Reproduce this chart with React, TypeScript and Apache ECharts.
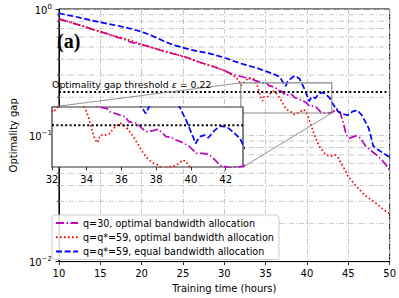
import React, { useEffect, useRef } from "react";
import * as echarts from "echarts";

const seriesNames = [
  "q=30, optimal bandwidth allocation",
  "q=q*=59, optimal bandwidth allocation",
  "q=q*=59, equal bandwidth allocation",
];

const q30X = [10,11,12,13,14,15,16,17,18,18.7,19.3,20,21,22,23,24,25,26,27,28,29,30,31,31.8,32.4,33.2,34.4,35.17,35.36,35.65,35.94,36.23,36.42,36.71,36.9,37.19,37.41,37.8,38.09,38.28,38.57,38.86,39.15,39.54,39.92,40.31,40.7,41.08,41.47,41.68,42.25,43.03,43.6,43.99,44.37,44.76,45.14,45.92,46.5,47.08,47.84,48.61,49.38,50];
const q30Y = [0.835,0.795,0.762,0.73,0.69,0.66,0.632,0.60,0.57,0.545,0.535,0.522,0.50,0.478,0.455,0.44,0.423,0.402,0.38,0.36,0.344,0.326,0.304,0.295,0.288,0.279,0.263,0.256,0.2485,0.245,0.241,0.2375,0.227,0.225,0.2237,0.2137,0.2073,0.2092,0.2118,0.2073,0.198,0.197,0.192,0.1875,0.181,0.170,0.170,0.1677,0.1578,0.152,0.149,0.151,0.163,0.153,0.128,0.1005,0.095,0.099,0.095,0.082,0.0747,0.0684,0.0604,0.053];

const optX = [10,11,12,13,14,15,16,17,18,19,20,21,22,23,24,25,26,27,28,29,30,31,31.7,32.05,32.4,32.8,33.0,33.6,33.91,34.1,34.3,34.49,34.64,34.78,35.07,35.36,35.46,35.65,35.94,36.23,36.42,36.81,37.19,37.48,37.8,38.09,38.4,38.7,39.0,39.34,39.54,39.69,39.92,40.14,40.5,40.9,41.48,42.25,42.83,43.4,43.8,44.2,44.57,44.95,45.92,47.08,48.23,49.2,50];
const optY = [0.835,0.80,0.765,0.725,0.695,0.665,0.63,0.605,0.58,0.555,0.525,0.50,0.48,0.46,0.44,0.42,0.40,0.378,0.362,0.345,0.325,0.30,0.275,0.248,0.262,0.28,0.287,0.279,0.256,0.2375,0.21,0.192,0.1875,0.201,0.201,0.204,0.21,0.217,0.224,0.217,0.21,0.192,0.173,0.163,0.1555,0.153,0.146,0.150,0.151,0.1555,0.16,0.158,0.151,0.14,0.12,0.1005,0.082,0.07,0.0683,0.07,0.066,0.0588,0.0536,0.0475,0.0398,0.0332,0.0294,0.026,0.024];

const eqX = [10,11,12,13,14,15,16,17,18,19,20,21,22,23,24,25,26,27,28,29,30,31,32,33,34,35,36,36.7,37.4,37.7,38.5,39.1,39.35,39.73,40.12,40.27,40.5,40.8,41.0,41.37,41.66,42.05,42.43,42.82,43.07,43.76,44.3,44.9,45.5,46.07,46.65,47.46,48.03,48.84,49.77,50];
const eqY = [0.926,0.895,0.87,0.84,0.81,0.785,0.76,0.74,0.715,0.69,0.66,0.625,0.585,0.545,0.515,0.495,0.475,0.46,0.448,0.43,0.412,0.39,0.37,0.355,0.34,0.322,0.305,0.29,0.245,0.27,0.296,0.28,0.26,0.23,0.198,0.186,0.198,0.201,0.196,0.21,0.218,0.217,0.207,0.195,0.18,0.154,0.148,0.144,0.154,0.158,0.144,0.114,0.082,0.075,0.0685,0.068];

const threshold = 0.22;
const xTicksMain = [10, 15, 20, 25, 30, 35, 40, 45, 50];
const xTicksInset = [32, 34, 36, 38, 40, 42];
const insetRangeX = [32, 43];
const insetRangeY = [0.15, 0.26];
const minorY = [0.02,0.03,0.04,0.05,0.06,0.07,0.08,0.09,0.2,0.3,0.4,0.5,0.6,0.7,0.8,0.9];

const FONT = "DejaVu Sans";
const zip = (xs: number[], ys: number[]) => xs.slice(0, Math.min(xs.length, ys.length)).map((x, i) => [x, ys[i]]);

const colors = ["#BF00BF", "#FF0000", "#0000FF"];
const dashes: number[][] = [[8, 2.5, 1.5, 2.5], [1.6, 2.4], [6, 2.6]];
const GRID_COLOR = "#b8b8b8";
const GRID_DASH = [5, 2, 1, 2];

const MAIN = { left: 46, top: 9, width: 346, height: 256 };
const INSET = { left: 52, top: 107, width: 191, height: 60 };

export default function App() {
  const ref = useRef<HTMLDivElement>(null);
  useEffect(() => {
    document.body.style.margin = "0";
    const chart = echarts.init(ref.current!, null, { renderer: "svg" });
    const datas = [zip(q30X, q30Y), zip(optX, optY), zip(eqX, eqY)];

    const mainLines = datas.map((d, i) => ({
      name: seriesNames[i],
      type: "line",
      xAxisIndex: 0,
      yAxisIndex: 0,
      data: d,
      symbol: "none",
      showSymbol: false,
      z: 2,
      lineStyle: { color: colors[i], width: 1.7, type: dashes[i], cap: "butt" },
      itemStyle: { color: colors[i] },
    }));
    const insetLines = datas.map((d, i) => ({
      name: seriesNames[i],
      type: "line",
      xAxisIndex: 1,
      yAxisIndex: 1,
      data: d,
      symbol: "none",
      showSymbol: false,
      z: 10,
      clip: true,
      lineStyle: { color: colors[i], width: 1.7, type: dashes[i], cap: "butt" },
      itemStyle: { color: colors[i] },
    }));
    const thrStyle = { color: "#000", width: 2, type: [2, 2.4], cap: "butt" };

    chart.setOption({
      animation: false,
      textStyle: { fontFamily: FONT },
      title: [
        {
          text: "(a)", left: 57, top: 31, padding: 0, z: 6,
          textStyle: { fontFamily: "Liberation Serif", fontSize: 20, fontWeight: "bold", color: "#000" },
        },
        {
          text: "{n|Optimality gap threshold }{e|\u03b5}{n| = 0.22}", left: 52, top: 79.5, padding: 0, z: 6,
          textStyle: {
            fontFamily: FONT, fontSize: 9.4, fontWeight: "normal", color: "#000",
            rich: {
              n: { fontFamily: FONT, fontSize: 9.4, color: "#000" },
              e: { fontFamily: FONT, fontSize: 9.4, fontStyle: "italic", color: "#000" },
            },
          },
        },
      ],
      grid: [
        { ...MAIN, show: true, borderColor: "#000", borderWidth: 1, backgroundColor: "#fff", containLabel: false },
        { ...INSET, show: false, containLabel: false },
      ],
      legend: {
        data: seriesNames,
        orient: "vertical",
        left: 52,
        top: 215,
        itemWidth: 22,
        itemHeight: 10,
        itemGap: 4.3,
        padding: [3, 5, 3, 3],
        backgroundColor: "rgba(255,255,255,0.85)",
        borderColor: "#cccccc",
        borderWidth: 1,
        borderRadius: 3,
        z: 20,
        itemStyle: { opacity: 0, borderWidth: 0 },
        textStyle: { fontFamily: FONT, fontSize: 9.6, color: "#000" },
      },
      xAxis: [
        {
          type: "value", gridIndex: 0, min: 10, max: 50, interval: 5,
          name: "Training time (hours)", nameLocation: "middle", nameGap: 19,
          nameTextStyle: { fontFamily: FONT, fontSize: 10, color: "#000" },
          axisLine: { show: true, lineStyle: { color: "#000", width: 1 } },
          axisTick: { show: true, length: 3.5, lineStyle: { color: "#000", width: 0.8 } },
          axisLabel: { fontFamily: FONT, fontSize: 10, color: "#000", margin: 6.5, customValues: xTicksMain },
          splitLine: { show: true, lineStyle: { color: GRID_COLOR, width: 0.8, type: GRID_DASH } },
        },
        {
          type: "value", gridIndex: 1, min: insetRangeX[0], max: insetRangeX[1], interval: 2, z: 8,
          axisLine: { show: false },
          axisTick: { show: true, length: 3.5, lineStyle: { color: "#000", width: 0.8 }, customValues: xTicksInset },
          axisLabel: { fontFamily: FONT, fontSize: 10, color: "#000", margin: 7, customValues: xTicksInset },
          splitLine: { show: false },
        },
      ],
      yAxis: [
        {
          type: "log", logBase: 10, gridIndex: 0, min: 0.01, max: 1,
          name: "Optimality gap", nameLocation: "middle", nameGap: 36,
          nameTextStyle: { fontFamily: FONT, fontSize: 10, color: "#000" },
          axisLine: { show: true, lineStyle: { color: "#000", width: 1 } },
          axisTick: { show: true, length: 3.5, lineStyle: { color: "#000", width: 0.8 } },
          axisLabel: {
            margin: 7,
            formatter: (v: number) => {
              const e = Math.round(Math.log10(v));
              return `{b|10}{s|${e === 0 ? "0" : "\u2212" + -e}}`;
            },
            rich: {
              b: { fontFamily: FONT, fontSize: 10, color: "#000", verticalAlign: "bottom" },
              s: { fontFamily: FONT, fontSize: 7, color: "#000", padding: [0, 0, 5, 0], verticalAlign: "bottom" },
            },
          },
          splitLine: { show: true, lineStyle: { color: GRID_COLOR, width: 0.8, type: GRID_DASH } },
        },
        {
          type: "log", logBase: 10, gridIndex: 1, min: insetRangeY[0], max: insetRangeY[1],
          axisLine: { show: false }, axisTick: { show: false }, axisLabel: { show: false }, splitLine: { show: false },
        },
      ],
      series: [
        {
          type: "custom",
          xAxisIndex: 0,
          yAxisIndex: 0,
          z: 1,
          silent: true,
          data: minorY.map((v) => [10, v]),
          renderItem: (params: any, api: any) => {
            const y = api.value(1);
            const a = api.coord([10, y]);
            const b = api.coord([50, y]);
            return {
              type: "group",
              children: [
                { type: "line", shape: { x1: a[0], y1: a[1], x2: b[0], y2: b[1] }, style: { stroke: GRID_COLOR, lineWidth: 0.8, lineDash: GRID_DASH } },
                { type: "line", shape: { x1: a[0] - 2.2, y1: a[1], x2: a[0], y2: a[1] }, style: { stroke: "#000", lineWidth: 0.7 } },
              ],
            };
          },
        },
        ...mainLines,
        {
          type: "line", xAxisIndex: 0, yAxisIndex: 0, z: 3, symbol: "none", showSymbol: false,
          data: [[10, threshold], [50, threshold]], lineStyle: thrStyle,
        },
        ...insetLines,
        {
          type: "line", xAxisIndex: 1, yAxisIndex: 1, z: 11, symbol: "none", showSymbol: false,
          data: [[insetRangeX[0], threshold], [insetRangeX[1], threshold]], lineStyle: thrStyle,
        },
      ],
    });

    const r1 = chart.convertToPixel({ xAxisIndex: 0, yAxisIndex: 0 }, [insetRangeX[0], insetRangeY[1]]) as number[];
    const r2 = chart.convertToPixel({ xAxisIndex: 0, yAxisIndex: 0 }, [insetRangeX[1], insetRangeY[0]]) as number[];
    const i1 = chart.convertToPixel({ xAxisIndex: 1, yAxisIndex: 1 }, [insetRangeX[0], insetRangeY[1]]) as number[];
    const i2 = chart.convertToPixel({ xAxisIndex: 1, yAxisIndex: 1 }, [insetRangeX[1], insetRangeY[0]]) as number[];

    chart.setOption({
      graphic: {
        elements: [
          {
            type: "rect", z: 5, silent: true,
            shape: { x: i1[0], y: i1[1], width: i2[0] - i1[0], height: i2[1] - i1[1] },
            style: { fill: "#fff", stroke: "#333", lineWidth: 1.2 },
          },
          {
            type: "rect", z: 4, silent: true,
            shape: { x: r1[0], y: r1[1], width: r2[0] - r1[0], height: r2[1] - r1[1] },
            style: { fill: "none", stroke: "#888", lineWidth: 1.1 },
          },
          {
            type: "line", z: 4, silent: true,
            shape: { x1: i1[0], y1: i1[1], x2: r1[0], y2: r1[1] },
            style: { stroke: "#888", lineWidth: 0.9 },
          },
          {
            type: "line", z: 4, silent: true,
            shape: { x1: i2[0], y1: i2[1], x2: r2[0], y2: r2[1] },
            style: { stroke: "#888", lineWidth: 0.9 },
          },
        ],
      },
    });

    return () => chart.dispose();
  }, []);
  return <div ref={ref} style={{ width: 399, height: 298 }} />;
}
